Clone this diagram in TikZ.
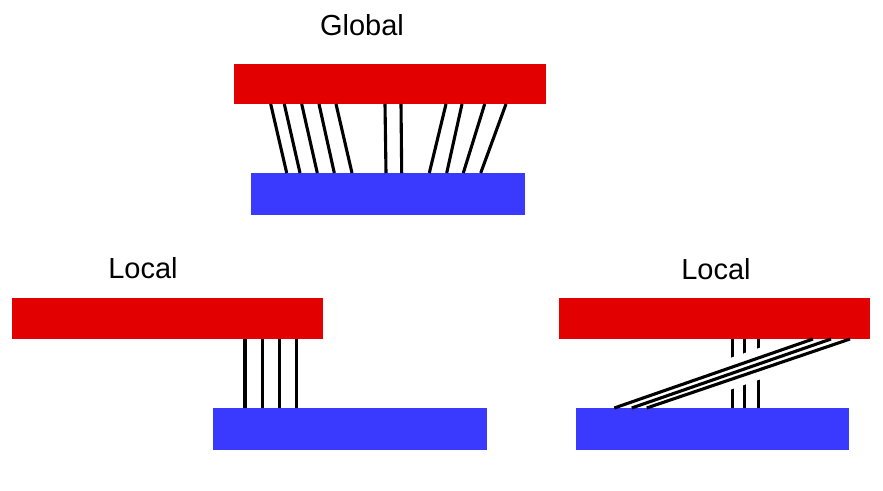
\documentclass[tikz,border=0pt]{standalone}
\usepackage{fontspec}
\setmainfont{Liberation Sans}
\usepackage{xcolor}
\usepackage{tikz}
\usetikzlibrary{positioning, calc}
\definecolor{barred}{RGB}{226,0,0}
\definecolor{barblue}{RGB}{58,58,255}

\begin{document}
\begin{tikzpicture}[
    x=1pt, y=-1pt,
    bar/.style={draw=none, rectangle, inner sep=0pt, outer sep=0pt, anchor=north west},
    redbar/.style={bar, fill=barred},
    bluebar/.style={bar, fill=barblue},
    link/.style={line width=3.1pt, black},
    title/.style={font=\fontsize{29}{34}\selectfont},
  ]
  \useasboundingbox (0,0) rectangle (883,490);

  % Global
  \node[title] (gLabel) at (362,25.5) {Global};
  \node[redbar, minimum width=312pt, minimum height=40pt] (gTop) at (234,64) {};
  \node[bluebar, minimum width=274pt, minimum height=42pt] (gBot) at (251,173) {};
  \foreach \a/\b in {36.7/35.7, 50.3/49, 67.7/66.3, 85/83.3, 102/101,
                     151/135, 167/150.7,
                     212/178.3, 228/195.7, 250.7/212.3, 272/229.7}
    \draw[link] ([xshift=\a pt]gTop.south west) -- ([xshift=\b pt]gBot.north west);

  % Local, left
  \node[title] (lLabel) at (143,268) {Local};
  \node[redbar, minimum width=311pt, minimum height=41pt] (lTop) at (12,298) {};
  \node[bluebar, minimum width=274pt, minimum height=42pt] (lBot) at (213,408) {};
  \foreach \a/\b in {233/32, 250.3/49.3, 267.3/66.3, 284.3/83.3}
    \draw[link] ([xshift=\a pt]lTop.south west) -- ([xshift=\b pt]lBot.north west);

  % Local, right
  \node[title] (rLabel) at (716,269) {Local};
  \node[redbar, minimum width=311pt, minimum height=41pt] (rTop) at (559,298) {};
  \node[bluebar, minimum width=273pt, minimum height=42pt] (rBot) at (576,408) {};
  \foreach \a/\b in {173.7/156.7, 185.3/168.3, 199.3/182.3}
    \draw[link] ([xshift=\a pt]rTop.south west) -- ([xshift=\b pt]rBot.north west);
  % white band under the crossing lines
  \coordinate (rA) at ([xshift=272pt]rTop.south west);
  \coordinate (rB) at ([xshift=55.7pt]rBot.north west);
  \draw[white, line width=30pt] ($(rA)!0.3!(rB)$) -- ($(rA)!0.7!(rB)$);
  \foreach \a/\b in {254/38.3, 272/55.7, 291/70.7}
    \draw[link] ([xshift=\a pt]rTop.south west) -- ([xshift=\b pt]rBot.north west);
\end{tikzpicture}
\end{document}
